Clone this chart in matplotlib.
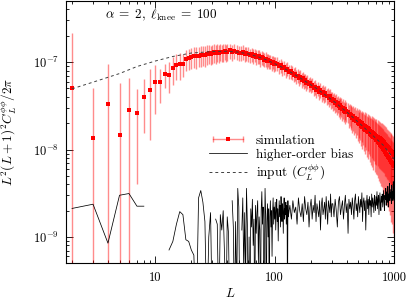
import numpy as np
import matplotlib
matplotlib.use('Agg')
import matplotlib.pyplot as plt
from matplotlib.lines import Line2D
from matplotlib.legend_handler import HandlerLine2D, HandlerTuple
from matplotlib.ticker import FuncFormatter, NullFormatter, LogLocator, FixedLocator

plt.rcParams['font.family'] = ['cmr10', 'DejaVu Serif']
plt.rcParams['mathtext.fontset'] = 'cm'
plt.rcParams['axes.formatter.use_mathtext'] = True

# ---------------- data ----------------
# simulation (units of 1e-8)
L_sim = np.concatenate([np.arange(2, 41), np.arange(42, 101, 2), np.arange(104, 201, 4),
                        np.arange(206, 399, 6), np.arange(408, 1001, 8)])
sim_vals = [
    5.02, 1.35, 3.3, 1.48, 2.85, 2.65, 4.0, 4.77, 5.97, 5.85, 7.24, 7.2, 8.48, 9.25, 9.5, 9.6,
    10.9, 11.1, 11.4, 11.7, 11.6, 11.9, 12.1, 12.2, 12.0, 12.4, 12.6, 12.3, 12.7, 12.9, 12.6,
    13.0, 12.8, 13.2, 12.9, 13.1, 13.4, 12.9, 13.2,
    13.6, 13.0, 13.4, 13.1, 12.8, 12.7, 13.1, 12.4, 12.6, 12.5, 12.0, 12.3, 11.8, 12.1, 11.5,
    11.7, 11.6, 11.0, 11.3, 11.1, 10.7, 10.9, 10.4, 10.6, 10.2, 10.3, 9.8, 10.1, 9.6, 9.7,
    9.6, 9.0, 9.2, 8.6, 8.7, 8.2, 8.4, 7.8, 7.9, 7.6, 7.2, 7.4, 6.9, 7.0, 6.6, 6.8, 6.3, 6.5,
    6.1, 6.2, 5.8, 6.0, 5.6, 5.7, 5.4,
    5.5, 5.1, 5.2, 4.85, 5.0, 4.6, 4.8, 4.4, 4.55, 4.25, 4.4, 4.05, 4.15, 3.9, 4.05, 3.72,
    3.8, 3.55, 3.66, 3.4, 3.5, 3.25, 3.38, 3.12, 3.22, 3.0, 3.1, 2.88, 3.0, 2.78, 2.9, 2.68, 2.78,
    2.72, 2.50, 2.58, 2.41, 2.50, 2.30, 2.39, 2.20, 2.30, 2.10,
    2.22, 2.03, 2.12, 1.95, 2.06, 1.88, 1.99, 1.80, 1.93, 1.74,
    1.86, 1.68, 1.80, 1.62, 1.75, 1.57, 1.70, 1.52, 1.64, 1.47,
    1.60, 1.42, 1.55, 1.38, 1.52, 1.34, 1.47, 1.30, 1.44, 1.27,
    1.40, 1.22, 1.37, 1.18, 1.34, 1.14, 1.31, 1.10, 1.28, 1.07,
    1.25, 1.02, 1.22, 0.98, 1.17, 0.93, 1.14, 0.90, 1.10, 0.86,
    1.07, 0.83, 1.04, 0.80, 1.00, 0.76, 0.97, 0.72, 0.95, 0.70,
    0.92, 0.66, 0.90, 0.64, 0.85]
sim_err = [
    16.5, 3.76, 6.1, 4.3, 3.7, 2.25, 2.45, 3.5, 3.4, 2.4, 2.2, 2.8, 3.0, 3.0, 3.2, 2.8, 3.0,
    3.0, 3.1, 3.1, 3.2, 3.1, 3.2, 3.1, 3.2, 3.1, 3.2, 3.1, 3.2, 3.1, 3.0, 3.1, 3.0, 3.0, 2.9,
    3.0, 2.9, 2.9, 2.8,
    2.7, 2.6, 2.6, 2.6, 2.5, 2.5, 2.5, 2.4, 2.4, 2.4, 2.3, 2.3, 2.3, 2.2, 2.2, 2.2, 2.1, 2.1,
    2.1, 2.0, 2.0, 2.0, 2.0, 1.9, 1.9, 1.9, 1.9, 1.8, 1.8, 1.8,
    1.75, 1.7, 1.65, 1.6, 1.6, 1.55, 1.5, 1.45, 1.45, 1.4, 1.35, 1.35, 1.3, 1.3, 1.25, 1.25,
    1.2, 1.2, 1.15, 1.15, 1.1, 1.1, 1.05, 1.05, 1.0,
    1.0, 0.98, 0.97, 0.95, 0.94, 0.93, 0.92, 0.9, 0.89, 0.88, 0.87, 0.86, 0.85, 0.84, 0.83,
    0.82, 0.81, 0.8, 0.8, 0.79, 0.78, 0.78, 0.77, 0.77, 0.76, 0.76, 0.75, 0.75, 0.75, 0.74,
    0.74, 0.74, 0.73,
    0.73, 0.73, 0.74, 0.74, 0.74, 0.75, 0.75, 0.75, 0.76, 0.76, 0.76, 0.77,
    0.77, 0.77, 0.78, 0.78, 0.78, 0.79, 0.79, 0.79, 0.80, 0.80, 0.80, 0.80, 0.80,
    0.80, 0.80, 0.80, 0.80, 0.80, 0.80, 0.79, 0.79, 0.79, 0.78, 0.78, 0.78, 0.77,
    0.77, 0.76, 0.76, 0.75, 0.75, 0.74, 0.74, 0.73, 0.72, 0.72, 0.71, 0.70, 0.70,
    0.69, 0.68, 0.67, 0.67, 0.66, 0.65, 0.64, 0.64, 0.63, 0.62, 0.61, 0.61, 0.60,
    0.59, 0.58, 0.58, 0.57, 0.56, 0.56, 0.55, 0.55, 0.54, 0.54, 0.53]

# higher-order bias (units of 1e-9; negative = not shown on log axis)
L_bias = np.concatenate([np.arange(2, 131), np.arange(134, 303, 4), np.arange(307, 1001, 7)])
bias_vals = [
    2.12, 2.37, 0.85, 3.0, 3.14, 2.25, 2.25, -1, -1, -1,
    -1, 0.71, 0.89, 1.4, 1.95, 1.8, 0.93, 0.89, 0.71, 0.62,
    0.1, 2.8, 3.4, 2.5, 1.5, 0.1, 1.0, 1.9, 0.1, -1,
    1.6, 1.4, 0.1, 1.8, 1.2, 2.0, 0.6, 0.1, 1.7, 1.1,
    0.1, -1, 2.6, 1.3, 0.1, 1.5, 0.2, 3.6, 2.2, 0.1,
    -1, 1.2, 2.8, 0.4, 1.9, 0.3, 3.6, 1.4, 0.1, 1.0,
    0.1, 2.1, 1.3, 2.7, 0.8, 1.6, 0.1, 2.3, 1.1, 1.9,
    2.6, 0.5, 1.7, 1.2, 0.1, 2.0, 3.3, 1.4, 2.2, 0.1,
    0.7, 3.6, 1.8, 0.1, 1.5, 2.4, 1.0, 2.1, 0.1, 1.7,
    2.6, 1.3, 2.0, 0.6, 1.9, 2.8, 1.4, 2.2, 1.6, 2.5,
    1.2, 2.0, 2.7, 1.5, 2.1, 0.9, 1.8, 2.6, 1.7, 2.3,
    1.3, 2.9, 1.9, 1.5, 2.4, 2.0, 1.1, 2.2, 2.8, 1.6,
    2.1, 1.8, 2.5, 1.4, 2.3, 1.9, 0.1, 2.6, 1.7,
    2.3, 1.6, 2.6, 1.9, 2.2, 1.4, 2.8, 2.0, 1.7, 2.4,
    1.5, 2.9, 2.1, 1.8, 2.5, 1.3, 2.2, 2.7, 1.6, 2.3,
    1.9, 3.0, 1.5, 2.4, 2.0, 1.7, 2.6, 1.2, 2.3, 2.8,
    1.8, 2.1, 2.5, 1.6, 2.9, 2.0, 1.4, 2.6, 2.2, 1.9,
    3.1, 1.7, 2.4,
    2.4, 1.7, 2.7, 2.0, 1.3, 2.5, 2.9, 1.8, 2.2, 2.6,
    1.6, 2.3, 3.0, 1.9, 2.4, 1.1, 2.7, 2.1, 2.5, 1.8,
    2.8, 2.2, 1.6, 2.6, 3.1, 2.0, 2.4, 1.7, 2.9, 2.3,
    1.9, 2.7, 2.2, 3.2, 1.5, 2.5, 2.8, 2.0, 2.6, 1.2,
    2.4, 3.0, 2.1, 2.7, 1.8, 2.9, 2.3, 2.6, 1.7, 3.1,
    2.2, 2.8, 2.4, 1.9, 3.0, 2.5, 2.0, 2.9, 2.3, 3.3,
    2.1, 2.7, 3.0, 1.8, 2.6, 3.2, 2.4, 2.0, 2.9, 2.5,
    3.1, 2.2, 2.8, 3.4, 2.4, 2.0, 3.0, 2.7, 3.6, 2.3,
    2.9, 3.3, 2.5, 3.8, 2.2, 3.1, 2.7, 4.1, 2.6, 3.2,
    2.8, 3.5, 2.4, 3.9, 2.9, 3.3, 2.6, 4.3, 3.0, 2.7]

# input C_L^{phi phi} curve (units of 1e-8)
L_input = [2, 3, 4, 5, 7, 10, 14, 20, 30, 40, 50, 62, 80, 100, 118, 155, 224, 310, 428,
           590, 813, 1000]
input_vals = [4.95, 5.9, 6.7, 7.4, 8.9, 10.3, 11.6, 12.7, 13.2, 13.3, 13.0, 12.3, 11.0, 9.6,
              8.6, 6.9, 5.0, 3.6, 2.5, 1.68, 1.12, 0.78]

x_major_ticks = [10, 100, 1000]
legend_labels = ['simulation', 'higher-order bias', r'input ($C_L^{\phi\phi}$)']
annotation = r'$\alpha\;=\;2,\;\ell_{\rm knee}\;=\;100$'

# ---------------- plot ----------------
W, H = 409, 302
fig = plt.figure(figsize=(W / 100, H / 100), dpi=100)
ax_l, ax_r, ax_t, ax_b = 66, 394, 1, 263.3
ax = fig.add_axes([ax_l / W, 1 - ax_b / H, (ax_r - ax_l) / W, (ax_b - ax_t) / H])
ax.set_xscale('log')
ax.set_yscale('log', nonpositive='clip')

sim_y = np.array(sim_vals) * 1e-8
sim_e = np.array(sim_err) * 1e-8
bar_col = (1.0, 0.0, 0.0, 0.45)
ax.errorbar(L_sim, sim_y, yerr=sim_e, fmt='s', ms=3.4, mfc='red', mec='red', mew=0,
            ecolor=bar_col, elinewidth=1.0, capsize=2.5, capthick=1.0, zorder=2)

b = np.array(bias_vals) * 1e-9
b = np.where(b > 0, b, np.nan)
ax.plot(L_bias, b, color='black', lw=0.55, zorder=3)

ax.plot(L_input, np.array(input_vals) * 1e-8, color='0.25', lw=0.7, ls=(0, (3, 3)), zorder=4)

ax.set_xlim(1.78, 1000)
ax.set_ylim(5e-10, 5e-7)

ax.xaxis.set_major_locator(FixedLocator(x_major_ticks))
ax.xaxis.set_minor_locator(LogLocator(base=10, subs=np.arange(2, 10), numticks=20))
ax.xaxis.set_major_formatter(FuncFormatter(lambda v, p: f'{v:g}'))
ax.xaxis.set_minor_formatter(NullFormatter())
ax.yaxis.set_minor_formatter(NullFormatter())

ax.tick_params(which='both', direction='in', top=True, right=True, width=0.6, labelsize=9)
ax.tick_params(which='major', length=5)
ax.tick_params(which='minor', length=2.5)
ax.tick_params(axis='x', pad=6)
ax.tick_params(axis='y', pad=5)
for s in ax.spines.values():
    s.set_linewidth(0.8)

ax.set_xlabel(r'$L$', fontsize=9.5)
ax.xaxis.set_label_coords(0.5, -0.092)
ax.set_ylabel(r'$L^2(L+1)^2C_L^{\phi\phi}/2\pi$', fontsize=9.5)
ax.yaxis.set_label_coords(-0.145, 0.5)

ax.text(0.29, 0.947, annotation, transform=ax.transAxes, ha='center', va='center', fontsize=9.5)

h_bar = Line2D([], [], color=bar_col, lw=1.0, marker='|', ms=4, mew=1.0)
h_mk = Line2D([], [], ls='none', marker='s', ms=3.4, color='red', mew=0)
h_bias = Line2D([], [], color='black', lw=0.55)
h_in = Line2D([], [], color='0.25', lw=0.7, ls=(0, (3, 3)))
ax.legend([(h_bar, h_mk), h_bias, h_in], legend_labels,
          handler_map={tuple: HandlerTuple(ndivide=1, pad=0),
                       h_bar: HandlerLine2D(numpoints=2),
                       h_mk: HandlerLine2D(numpoints=1)},
          frameon=False, loc='upper left', bbox_to_anchor=(0.435, 0.49),
          borderaxespad=0, borderpad=0, handlelength=2.9, handletextpad=0.65,
          labelspacing=0.1, fontsize=9.5)

fig.savefig('out.png', dpi=100)
